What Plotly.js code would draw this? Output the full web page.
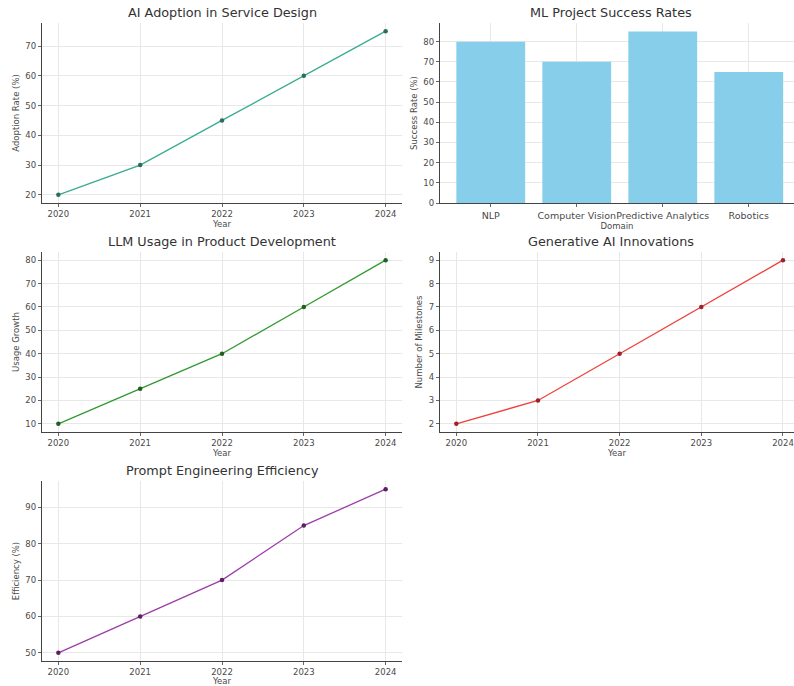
<!DOCTYPE html>
<html>
<head>
<meta charset="utf-8">
<script src="https://cdn.plot.ly/plotly-3.0.1.min.js"></script>
<style>html,body{margin:0;padding:0;background:#fff;}#chart{width:794px;height:686px;}</style>
</head>
<body>
<div id="chart"></div>
<script>
// ---- data ----
const years = [2020, 2021, 2022, 2023, 2024];
const adoptionRate = [20, 30, 45, 60, 75];
const domains = ["NLP", "Computer Vision", "Predictive Analytics", "Robotics"];
const successRate = [80, 70, 85, 65];
const llmUsage = [10, 25, 40, 60, 80];
const genAiMilestones = [2, 3, 5, 7, 9];
const promptEfficiency = [50, 60, 70, 85, 95];
const titles = ["AI Adoption in Service Design", "ML Project Success Rates", "LLM Usage in Product Development", "Generative AI Innovations", "Prompt Engineering Efficiency"];
const yTitles = ["Adoption Rate (%)", "Success Rate (%)", "Usage Growth", "Number of Milestones", "Efficiency (%)"];
const xTitles = ["Year", "Domain", "Year", "Year", "Year"];

// ---- layout helpers ----
const W = 794, H = 686;
const leftX = [42 / W, 402 / W];
const rightX = [440 / W, 1];
const rows = [[1 - 203 / H, 1 - 23 / H], [1 - 432 / H, 1 - 252 / H], [1 - 661 / H, 1 - 481 / H]];
const font = "DejaVu Sans, Liberation Sans, sans-serif";

function axisBase() {
  return {
    showline: true, linecolor: "#444", linewidth: 1.2,
    ticks: "outside", ticklen: 3, tickcolor: "#666", tickwidth: 1,
    showgrid: true, gridcolor: "#e8e8e8", gridwidth: 1,
    zeroline: false, mirror: false, tickangle: 0,
    tickfont: {family: font, size: 8.5, color: "#4a4a4a"},
    automargin: false, fixedrange: true
  };
}
function xAxis(domain, anchor, title, extra) {
  return Object.assign(axisBase(), {domain: domain, anchor: anchor,
    title: {text: title, font: {family: font, size: 8.5, color: "#4a4a4a"}, standoff: 1}}, extra);
}
function yAxis(domain, anchor, title, extra) {
  return Object.assign(axisBase(), {domain: domain, anchor: anchor,
    title: {text: title, font: {family: font, size: 8.5, color: "#4a4a4a"}, standoff: 4}}, extra);
}
function pad(arr) { const mn = Math.min(...arr), mx = Math.max(...arr), m = (mx - mn) * 0.05; return [mn - m, mx + m]; }

function lineTrace(y, color, mcolor, xa, ya) {
  return {x: years, y: y, type: "scatter", mode: "lines+markers", xaxis: xa, yaxis: ya,
    line: {color: color, width: 1.3}, marker: {color: mcolor, size: 4.5}, hoverinfo: "skip"};
}

const traces = [
  lineTrace(adoptionRate, "#3aab90", "#2a6e5e", "x", "y"),
  {x: domains.map((d, i) => i), y: successRate, type: "bar", xaxis: "x2", yaxis: "y2",
    marker: {color: "#87ceeb"}, width: 0.8, hoverinfo: "skip"},
  lineTrace(llmUsage, "#2f9a2f", "#1f5f1f", "x3", "y3"),
  lineTrace(genAiMilestones, "#f0403c", "#a0202a", "x4", "y4"),
  lineTrace(promptEfficiency, "#9b3fa6", "#5a2060", "x5", "y5")
];

const yrPad = 0.2;
const layout = {
  width: W, height: H,
  margin: {l: 0, r: 0, t: 0, b: 0},
  paper_bgcolor: "#fff", plot_bgcolor: "#fff",
  showlegend: false,
  font: {family: font},
  xaxis: xAxis(leftX, "y", xTitles[0], {range: [years[0] - yrPad, years[4] + yrPad], tickvals: years}),
  yaxis: yAxis(rows[0], "x", yTitles[0], {range: pad(adoptionRate), dtick: 10}),
  xaxis2: xAxis(rightX, "y2", xTitles[1], {range: [-0.59, 3.526], tickvals: domains.map((d, i) => i), ticktext: domains,
    tickfont: {family: font, size: 9.5, color: "#4a4a4a"}}),
  yaxis2: yAxis(rows[0], "x2", yTitles[1], {range: [0, Math.max(...successRate) * 1.05], dtick: 10}),
  xaxis3: xAxis(leftX, "y3", xTitles[2], {range: [years[0] - yrPad, years[4] + yrPad], tickvals: years}),
  yaxis3: yAxis(rows[1], "x3", yTitles[2], {range: pad(llmUsage), dtick: 10}),
  xaxis4: xAxis(rightX, "y4", xTitles[3], {range: [years[0] - yrPad, years[4] + 0.135], tickvals: years}),
  yaxis4: yAxis(rows[1], "x4", yTitles[3], {range: pad(genAiMilestones), dtick: 1}),
  xaxis5: xAxis(leftX, "y5", xTitles[4], {range: [years[0] - yrPad, years[4] + yrPad], tickvals: years}),
  yaxis5: yAxis(rows[2], "x5", yTitles[4], {range: pad(promptEfficiency), dtick: 10}),
  annotations: [
    {text: titles[0], x: (leftX[0] + leftX[1]) / 2, y: rows[0][1]},
    {text: titles[1], x: (rightX[0] + 0.985) / 2, y: rows[0][1]},
    {text: titles[2], x: (leftX[0] + leftX[1]) / 2, y: rows[1][1]},
    {text: titles[3], x: (rightX[0] + 0.985) / 2, y: rows[1][1]},
    {text: titles[4], x: (leftX[0] + leftX[1]) / 2, y: rows[2][1]}
  ].map(a => Object.assign(a, {xref: "paper", yref: "paper", xanchor: "center", yanchor: "bottom",
    yshift: 1, showarrow: false, font: {family: font, size: 12.8, color: "#333"}}))
};

Plotly.newPlot("chart", traces, layout, {displayModeBar: false, staticPlot: true});
</script>
</body>
</html>
